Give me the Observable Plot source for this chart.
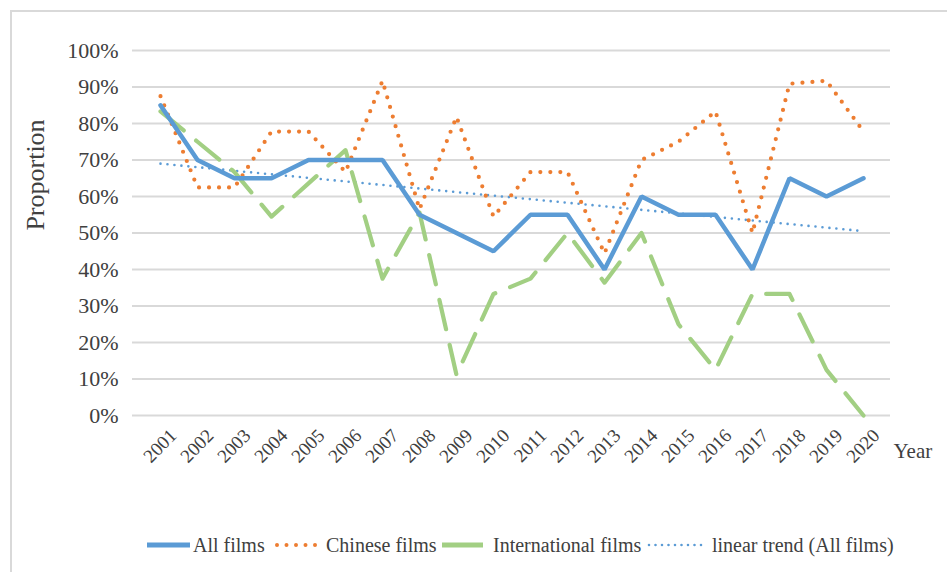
<!DOCTYPE html>
<html>
<head>
<meta charset="utf-8">
<script src="https://cdn.jsdelivr.net/npm/d3@7"></script>
<script src="https://cdn.jsdelivr.net/npm/@observablehq/plot@0.6"></script>
<style>
  html, body { margin: 0; padding: 0; background: #fff; }
  body { width: 947px; height: 572px; position: relative; overflow: hidden;
         font-family: "Liberation Serif", "Times New Roman", serif; color: #404040; }
  #frame { position: absolute; left: 10px; top: 10px; width: 960px; height: 600px;
           border-left: 2px solid #d9d9d9; border-top: 2px solid #d9d9d9; }
  #chart { position: absolute; left: 0; top: 0; }
  #legend { position: absolute; left: 0; top: 533px; width: 947px; height: 24px; font-size: 20px; }
  #legend .item { position: absolute; top: 0; height: 24px; line-height: 24px; white-space: nowrap; }
  #legend svg { position: absolute; top: 0; }
</style>
</head>
<body>
<div id="frame"></div>
<div id="chart"></div>
<div id="legend"></div>
<script>
const years = [2001, 2002, 2003, 2004, 2005, 2006, 2007, 2008, 2009, 2010,
               2011, 2012, 2013, 2014, 2015, 2016, 2017, 2018, 2019, 2020];
const allFilms = [0.85, 0.70, 0.65, 0.65, 0.70, 0.70, 0.70, 0.55, 0.50, 0.45,
                  0.55, 0.55, 0.40, 0.60, 0.55, 0.55, 0.40, 0.65, 0.60, 0.65];
const chineseFilms = [0.875, 0.625, 0.625, 0.778, 0.778, 0.667, 0.917, 0.565, 0.818, 0.545,
                      0.667, 0.667, 0.444, 0.70, 0.75, 0.833, 0.50, 0.909, 0.917, 0.778];
const internationalFilms = [0.833, 0.75, 0.667, 0.545, 0.636, 0.727, 0.375, 0.556, 0.111, 0.333,
                            0.375, 0.50, 0.364, 0.50, 0.25, 0.125, 0.333, 0.333, 0.125, 0.0];
const yTicks = [0, 0.1, 0.2, 0.3, 0.4, 0.5, 0.6, 0.7, 0.8, 0.9, 1.0];
const seriesNames = ["All films", "Chinese films", "International films", "linear trend (All films)"];
const colors = { all: "#5B9BD5", chinese: "#ED7D31", intl: "#A2CF83", trend: "#5B9BD5" };

const table = years.map((year, i) => ({
  year, all: allFilms[i], chinese: chineseFilms[i], intl: internationalFilms[i]
}));

const font = '"Liberation Serif", "Times New Roman", serif';

const chart = Plot.plot({
  width: 947,
  height: 500,
  marginLeft: 132,
  marginRight: 57,
  marginTop: 50,
  marginBottom: 85,
  style: { fontFamily: font, color: "#404040", background: "transparent", overflow: "visible" },
  x: { type: "point", domain: years, padding: 0.5 },
  y: { domain: [0, 1] },
  marks: [
    Plot.gridY(yTicks, { stroke: "#d9d9d9", strokeOpacity: 1, strokeWidth: 2 }),
    Plot.axisY(yTicks, { tickSize: 0, tickPadding: 14, fontSize: 22, label: null,
                         tickFormat: d => Math.round(d * 100) + "%" }),
    Plot.axisX({ tickSize: 0, tickPadding: 17, tickRotate: -45, fontSize: 19, label: null,
                 tickFormat: d => String(d), dx: 13 }),
    Plot.linearRegressionY(table, { x: "year", y: "all", ci: 0, stroke: colors.trend,
                 strokeWidth: 2.6, strokeDasharray: "0 7", strokeLinecap: "round" }),
    Plot.line(table, { x: "year", y: "intl", stroke: colors.intl, strokeWidth: 4.2,
                 strokeDasharray: "30 16", strokeLinecap: "round", strokeLinejoin: "round" }),
    Plot.line(table, { x: "year", y: "chinese", stroke: colors.chinese, strokeWidth: 4.2,
                 strokeDasharray: "0 10", strokeLinecap: "round" }),
    Plot.line(table, { x: "year", y: "all", stroke: colors.all, strokeWidth: 4.5,
                 strokeLinejoin: "miter" }),
    Plot.text(["Proportion"], { frameAnchor: "left", textAnchor: "middle", rotate: -90, dx: -97, dy: -58,
                 fontSize: 26, fill: "#404040" }),
    Plot.text(["Year"], { frameAnchor: "bottom-right", textAnchor: "start", dx: 3, dy: 42,
                 fontSize: 21, fill: "#404040" })
  ]
});
document.getElementById("chart").appendChild(chart);

// Legend
const legend = document.getElementById("legend");
const legendItems = [
  { name: seriesNames[0], color: colors.all, w: 43, sw: 5, dash: null, cap: "butt", sx: 147, tx: 193 },
  { name: seriesNames[1], color: colors.chinese, w: 43, sw: 4, dash: "0 9.5", cap: "round", sx: 275, tx: 326 },
  { name: seriesNames[2], color: colors.intl, w: 41, sw: 5, dash: null, cap: "butt", sx: 442, tx: 493 },
  { name: seriesNames[3], color: colors.trend, w: 58, sw: 2.6, dash: "0 6.5", cap: "round", sx: 647, tx: 712 }
];
legendItems.forEach(it => {
  const ns = "http://www.w3.org/2000/svg";
  const svg = document.createElementNS(ns, "svg");
  svg.setAttribute("width", it.w + 4);
  svg.setAttribute("height", 24);
  svg.style.left = (it.sx - 2) + "px";
  const ln = document.createElementNS(ns, "line");
  ln.setAttribute("x1", 2 + (it.cap === "round" ? 2 : 0));
  ln.setAttribute("x2", it.w + 2);
  ln.setAttribute("y1", 12);
  ln.setAttribute("y2", 12);
  ln.setAttribute("stroke", it.color);
  ln.setAttribute("stroke-width", it.sw);
  ln.setAttribute("stroke-linecap", it.cap);
  if (it.dash) ln.setAttribute("stroke-dasharray", it.dash);
  svg.appendChild(ln);
  legend.appendChild(svg);
  const span = document.createElement("span");
  span.className = "item";
  span.style.left = it.tx + "px";
  span.textContent = it.name;
  legend.appendChild(span);
});
</script>
</body>
</html>
